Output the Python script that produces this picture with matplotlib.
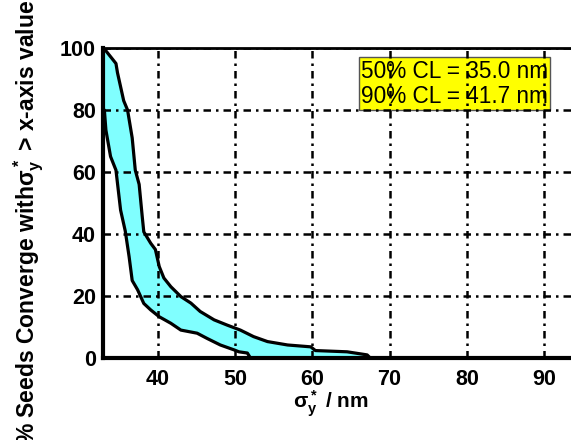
import numpy as np
import matplotlib
matplotlib.use("Agg")
import matplotlib.pyplot as plt

plt.rcParams["mathtext.default"] = "regular"

# upper edge of the band
upper_x = [33.0, 33.2, 34.6, 34.8, 35.6, 36.1, 36.7, 37.1, 37.6, 38.0, 38.2, 39.1, 39.7,
           40.2, 40.8, 41.7, 43.0, 44.3, 45.5, 47.3, 49.0, 50.7, 52.4, 54.2, 56.8,
           59.8, 60.4, 64.5, 67.1, 67.5, 96.0]
upper_y = [100, 99.4, 95, 92, 83, 80, 71, 60.6, 56, 45.6, 40.7, 37, 35,
           29.5, 25.8, 23, 19.8, 17.7, 15, 12.3, 10.6, 9, 6.9, 5.3, 4.2,
           3.6, 2.4, 2.0, 1.0, 0, 0]

# lower edge of the band
lower_x = [33.0, 33.1, 33.3, 33.9, 34.6, 35.2, 35.8, 36.3, 36.7, 37.4, 38.2, 39.1, 40.2,
           41.7, 43.0, 45.1, 46.4, 48.1, 49.9, 50.5, 51.6, 52.0, 96.0]
lower_y = [80, 80, 73.5, 65, 60.6, 47.7, 41, 32.7, 25, 22, 17.6, 15.5, 13.3,
           11.2, 9, 8, 6.3, 4.2, 2.6, 2.0, 1.6, 0, 0]

cl_lines = ["50% CL = 35.0 nm", "90% CL = 41.7 nm"]
x_ticks = [40, 50, 60, 70, 80, 90]
y_ticks = [0, 20, 40, 60, 80, 100]

W, H = 571, 440
fig = plt.figure(figsize=(W / 100, H / 100), dpi=100)

# axes in pixels: left 103, bottom 358, top 48, runs past the right edge
ax_left, ax_right, ax_top, ax_bot = 103, 600, 48, 358
ax = fig.add_axes([ax_left / W, (H - ax_bot) / H, (ax_right - ax_left) / W, (ax_bot - ax_top) / H])

px_per_unit = 7.73
x0 = 40 - (157.7 - ax_left) / px_per_unit
x1 = x0 + (ax_right - ax_left) / px_per_unit
ax.set_xlim(x0, x1)
ax.set_ylim(0, 100)

# common x grid for the fill
xx = np.linspace(33, 96, 3000)
up = np.interp(xx, upper_x, upper_y)
lo = np.interp(xx, lower_x, lower_y)
ax.fill_between(xx, lo, up, color="#80FFFF", lw=0, zorder=1)
ax.plot(upper_x, upper_y, color="black", lw=2.3, zorder=2)
ax.plot(lower_x, lower_y, color="black", lw=2.3, zorder=2)

ax.set_xticks(x_ticks)
ax.set_yticks(y_ticks)
ax.grid(True, color="black", linestyle=(0, (3, 2, 1, 2)), lw=1.8)
ax.set_axisbelow(False)
for gl in ax.get_xgridlines() + ax.get_ygridlines():
    gl.set_zorder(3)

ax.tick_params(length=0, labelsize=15.5, pad=5)
ax.tick_params(axis="x", pad=8)
for lab in ax.get_xticklabels() + ax.get_yticklabels():
    lab.set_fontweight("bold")
    lab.set_fontfamily("Liberation Sans")

for side in ["left", "bottom"]:
    ax.spines[side].set_linewidth(3)
ax.spines["top"].set_linewidth(2)
ax.spines["right"].set_visible(False)
for sp in ax.spines.values():
    sp.set_zorder(4)

ax.text(66.3, 88.5, "\n".join(cl_lines), fontsize=16.3, family="Liberation Sans",
        va="center", ha="left", linespacing=1.12, zorder=1.5,
        bbox=dict(boxstyle="square,pad=0.1", fc="#FFFF00", ec="#555555", lw=1))

ax.set_ylabel(r"% Seeds Converge with$\sigma^*_y$ > x-axis value", fontsize=16.5,
              fontweight="bold", family="Liberation Sans")
ax.yaxis.set_label_coords((46 - ax_left) / (ax_right - ax_left), (ax_bot - 222) / (ax_bot - ax_top))
ax.set_xlabel(r"$\sigma^*_y$ / nm", fontsize=15, fontweight="bold", family="Liberation Sans")
ax.xaxis.set_label_coords((331 - ax_left) / (ax_right - ax_left), -(388 - ax_bot) / (ax_bot - ax_top))

fig.savefig("out.png", dpi=100)
